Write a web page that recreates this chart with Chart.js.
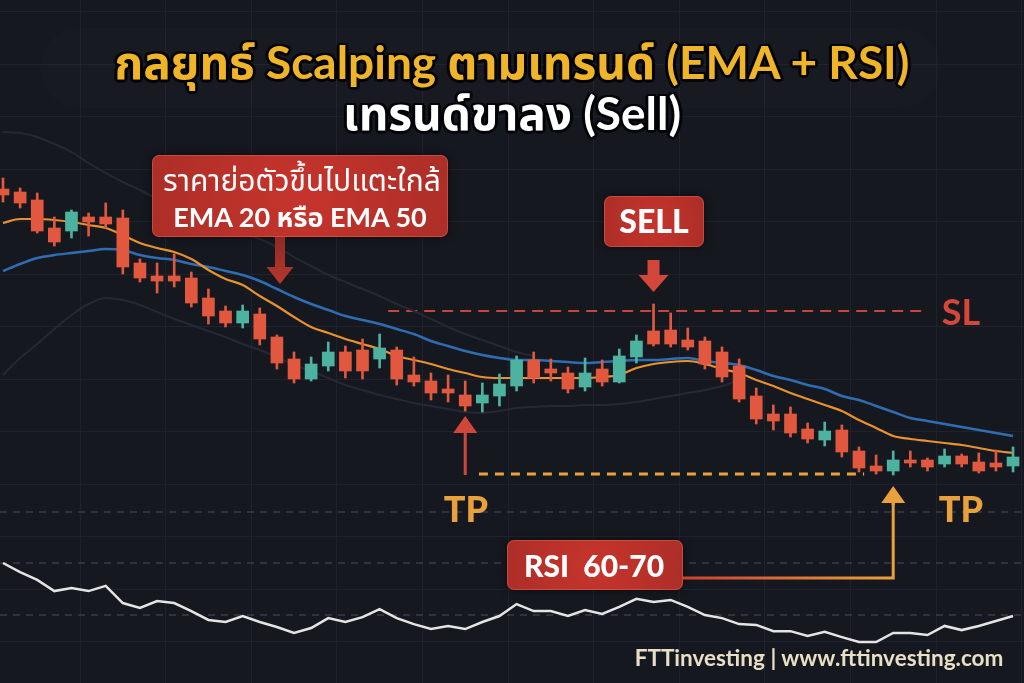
<!DOCTYPE html>
<html>
<head>
<meta charset="utf-8">
<script src="https://cdn.jsdelivr.net/npm/chart.js@4.4.0/dist/chart.umd.min.js"></script>
<style>
  html, body { margin: 0; padding: 0; background: #161820; }
  #wrap { position: relative; width: 1024px; height: 683px; overflow: hidden; background: #161820; }
  #chart { position: absolute; left: 0; top: 0; }
  .lbl {
    position: absolute; transform: translate(-50%, -50%);
    white-space: pre; line-height: 1;
    font-family: "Lato", "Noto Sans Thai", "Noto Sans", sans-serif;
  }
  .title { font-size: 46px; font-weight: 700;
    text-shadow: 0 0 3px #000, 2px 2px 0 #05060a, -2px -2px 0 #05060a, 2px -2px 0 #05060a, -2px 2px 0 #05060a, 0 3px 0 #05060a, 3px 0 0 #05060a, -3px 0 0 #05060a; }
</style>
</head>
<body>
<div id="wrap">
  <canvas id="chart" width="1024" height="683"></canvas>

  <div class="lbl title" style="left:512px; top:62px; color:#f0b429;">กลยุทธ์ Scalping ตามเทรนด์ (EMA + RSI)</div>
  <div class="lbl title" style="left:512px; top:113px; color:#ffffff;">เทรนด์ขาลง (Sell)</div>

  <div class="lbl" style="left:302px; top:179px; color:#fff; font-size:30px; font-weight:400;">ราคาย่อตัวขึ้นไปแตะใกล้</div>
  <div class="lbl" style="left:300px; top:216px; color:#fff; font-size:27px; font-weight:700;">EMA 20 หรือ EMA 50</div>

  <div class="lbl" style="left:654px; top:221px; color:#fff; font-size:32px; font-weight:900;">SELL</div>
  <div class="lbl" style="left:961px; top:311px; color:#d4473a; font-size:36px; font-weight:700;">SL</div>
  <div class="lbl" style="left:466px; top:508px; color:#e9a13b; font-size:36px; font-weight:900;">TP</div>
  <div class="lbl" style="left:961px; top:508px; color:#e9a13b; font-size:36px; font-weight:900;">TP</div>
  <div class="lbl" style="left:594px; top:565px; color:#fff; font-size:30px; font-weight:900;">RSI  60-70</div>
  <div class="lbl" style="left:819px; top:658px; color:#e8dfc6; font-size:22.5px; font-weight:700;">FTTinvesting | www.fttinvesting.com</div>
</div>

<script>
// candles (one per bar, left to right)
const opens = [2381.1,2380.8,2380.0,2377.2,2376.9,2378.3,2378.3,2378.2,2373.7,2372.4,
  2372.4,2372.2,2370.2,2368.9,2367.7,2368.6,2366.3,2364.1,2362.1,2363.4,
  2364.8,2365.0,2364.1,2365.0,2362.5,2361.9,2361.1,2360.5,2359.7,2360.4,
  2361.4,2364.0,2363.1,2362.7,2361.3,2363.1,2361.8,2364.3,2366.9,2367.0,
  2366.0,2365.9,2364.8,2363.4,2360.4,2358.6,2358.6,2357.1,2356.0,2357.0,
  2354.9,2353.4,2352.9,2354.0,2354.0,2353.6,2354.4,2353.8,2353.7,2353.4];
const highs = [2382.2,2381.2,2380.7,2378.3,2379.0,2378.7,2379.7,2379.0,2374.1,2373.7,
  2374.6,2372.8,2371.1,2369.4,2369.5,2369.2,2366.5,2364.8,2364.3,2365.8,
  2365.4,2366.1,2366.6,2365.3,2364.3,2362.7,2362.5,2361.9,2361.7,2362.6,
  2364.4,2364.8,2364.1,2363.3,2364.2,2364.0,2365.1,2366.5,2369.6,2368.7,
  2367.2,2366.3,2365.3,2364.1,2361.2,2359.5,2359.3,2357.7,2357.8,2357.5,
  2355.3,2354.5,2354.9,2354.9,2354.2,2355.1,2354.6,2354.7,2355.0,2355.3];
const lows = [2379.8,2379.2,2376.7,2375.4,2376.2,2376.4,2377.2,2372.6,2371.8,2370.7,
  2371.3,2369.3,2367.6,2367.3,2367.2,2365.5,2363.1,2361.7,2361.9,2362.9,
  2362.2,2362.1,2363.2,2361.5,2361.4,2360.0,2359.8,2358.9,2358.8,2359.4,
  2360.9,2361.7,2361.9,2360.7,2360.9,2361.4,2361.7,2363.7,2365.4,2365.3,
  2365.0,2363.1,2361.8,2359.8,2357.6,2357.0,2356.3,2355.7,2355.4,2354.3,
  2352.8,2352.6,2352.5,2353.3,2352.9,2353.3,2353.3,2352.7,2352.9,2352.8];
const closes = [2380.5,2379.7,2376.9,2375.8,2378.8,2377.8,2377.6,2373.3,2372.2,2371.9,
  2371.9,2369.7,2368.4,2367.7,2368.9,2366.1,2363.7,2362.1,2363.6,2364.8,
  2362.9,2362.9,2365.2,2362.1,2361.8,2360.7,2360.7,2359.4,2360.5,2361.6,
  2364.0,2362.2,2362.7,2361.1,2362.7,2361.8,2364.4,2365.9,2365.6,2365.6,
  2365.3,2363.6,2362.3,2360.1,2358.1,2357.9,2356.7,2356.1,2356.9,2354.8,
  2353.2,2352.9,2354.0,2353.7,2353.3,2354.4,2353.6,2352.9,2353.3,2354.3];

const ema20 = [2377.7,2378.1,2378.1,2378.0,2377.8,2377.5,2377.2,2376.5,2375.7,2375.2,
  2374.8,2374.1,2373.0,2372.1,2371.5,2370.4,2369.4,2368.3,2367.3,2366.7,
  2366.1,2365.6,2365.1,2364.4,2364.0,2363.6,2363.1,2362.7,2362.3,2362.2,
  2362.2,2362.2,2362.2,2362.2,2362.2,2362.3,2362.5,2363.2,2363.6,2363.8,
  2363.9,2363.6,2363.1,2362.7,2362.0,2361.4,2360.7,2360.1,2359.5,2358.9,
  2358.0,2357.2,2356.4,2356.1,2355.9,2355.7,2355.5,2355.2,2354.9,2354.7];
const ema50 = [2372.9,2373.6,2374.2,2374.5,2374.7,2374.9,2375.1,2375.0,2374.5,2374.2,
  2374.0,2373.6,2373.3,2372.9,2372.5,2371.9,2371.1,2370.3,2369.6,2369.0,
  2368.4,2368.0,2367.6,2367.1,2366.6,2365.9,2365.4,2364.9,2364.5,2364.2,
  2364.0,2364.0,2363.9,2363.8,2363.7,2363.8,2363.9,2364.0,2364.0,2364.1,
  2364.2,2363.9,2363.7,2363.5,2363.0,2362.4,2362.0,2361.5,2361.1,2360.4,
  2360.0,2359.4,2358.8,2358.2,2357.9,2357.6,2357.3,2357.0,2356.7,2356.4];
const bandUpper = [2386.8,2386.7,2386.3,2385.6,2384.8,2383.7,2382.7,2381.8,2381.0,2380.1,
  2379.2,2378.5,2377.8,2377.2,2376.7,2376.1,2375.3,2374.3,2373.4,2372.5,
  2371.8,2371.1,2370.4,2369.6,2368.9,2368.1,2367.3,2366.6,2366.0,2365.4,
  2364.8,2364.4];
const bandLower = [2362.5,2364.2,2365.6,2367.1,2368.5,2369.6,2370.2,2370.0,2369.5,2368.8,
  2368.1,2367.5,2366.9,2366.3,2365.6,2365.0,2364.3,2363.5,2362.9,2362.2,
  2361.5,2361.0,2360.5,2360.1,2359.7,2359.4,2359.1,2358.8,2358.7,2358.9,
  2359.2,2359.3,2359.4,2359.4,2359.5,2359.5,2359.6,2359.8,2360.1,2360.4,
  2360.7,2361.0,2361.4,2362.0];
const rsi = [70.0,66.5,63.5,59.2,60.4,59.2,61.2,54.6,52.7,55.4,
  54.6,51.5,48.1,47.3,49.6,47.3,45.4,43.1,45.0,48.8,
  47.3,49.2,52.3,48.8,46.5,44.6,45.8,44.6,47.3,49.6,
  54.2,51.5,51.5,49.6,51.9,50.4,53.1,56.2,55.0,55.8,
  53.1,50.0,48.8,46.5,46.2,43.8,43.8,41.9,43.5,41.5,
  39.6,39.6,43.1,43.1,42.3,45.8,44.2,45.8,47.7,49.6];

// levels
const gridPrices = [2398.8,2393.55,2388.3,2383.05,2377.8,2372.55,2367.3,2362.05,2356.8,2351.55,2346.3,2341.05,2335.8];
const gridBars = [2,7,12,17,22,27,32,37,42,47,52,57];
const slPrice = 2368.9;
const tpPrice = 2352.6;
const panelSplit = 2348.8;
const rsiLevels = [70, 50];

const UP = "#4db3a0";
const DOWN = "#e2583f";

const idx = opens.map((_, i) => i);
const colors = idx.map(i => closes[i] >= opens[i] ? UP : DOWN);

function pts(arr) {
  return arr.map((v, i) => ({ x: i, y: v }));
}

function arrow(ctx, x, yBase, yTip, shaftW, headW, headH, color) {
  const dir = yTip < yBase ? -1 : 1;
  const yHead = yTip - dir * headH;
  ctx.fillStyle = color;
  ctx.beginPath();
  ctx.moveTo(x - shaftW / 2, yBase);
  ctx.lineTo(x + shaftW / 2, yBase);
  ctx.lineTo(x + shaftW / 2, yHead);
  ctx.lineTo(x + headW / 2, yHead);
  ctx.lineTo(x, yTip);
  ctx.lineTo(x - headW / 2, yHead);
  ctx.lineTo(x - shaftW / 2, yHead);
  ctx.closePath();
  ctx.fill();
}

function redBox(ctx, x, y, w, h) {
  const g = ctx.createRadialGradient(x + w / 2, y + h / 2, 5, x + w / 2, y + h / 2, w / 1.6);
  g.addColorStop(0, "#c5342c");
  g.addColorStop(1, "#a72d27");
  ctx.save();
  ctx.shadowColor = "rgba(0,0,0,0.5)";
  ctx.shadowBlur = 8;
  ctx.fillStyle = g;
  ctx.beginPath();
  ctx.roundRect(x, y, w, h, 7);
  ctx.fill();
  ctx.restore();
  ctx.strokeStyle = "rgba(230,110,90,0.45)";
  ctx.lineWidth = 1;
  ctx.beginPath();
  ctx.roundRect(x + 0.5, y + 0.5, w - 1, h - 1, 7);
  ctx.stroke();
}

const annotations = {
  id: "annotations",
  beforeDatasetsDraw(chart) {
    const ctx = chart.ctx;
    const x = chart.scales.x, y = chart.scales.y, yr = chart.scales.yr;
    ctx.save();

    // faint glow behind the title
    ctx.fillStyle = "rgba(255,255,255,0.01)";
    ctx.beginPath();
    ctx.roundRect(40, 28, 900, 80, 40);
    ctx.fill();

    // panel split + rsi levels
    ctx.lineWidth = 1.5;
    ctx.strokeStyle = "#3a3d49";
    ctx.setLineDash([7, 6]);
    [y.getPixelForValue(panelSplit), ...rsiLevels.map(v => yr.getPixelForValue(v))].forEach(py => {
      ctx.beginPath();
      ctx.moveTo(0, py);
      ctx.lineTo(1024, py);
      ctx.stroke();
    });

    // SL
    ctx.strokeStyle = "#c9443a";
    ctx.lineWidth = 2;
    ctx.setLineDash([11, 7]);
    let py = y.getPixelForValue(slPrice);
    ctx.beginPath();
    ctx.moveTo(x.getPixelForValue(22.5), py);
    ctx.lineTo(x.getPixelForValue(53.7), py);
    ctx.stroke();

    // TP
    ctx.strokeStyle = "#e9a13b";
    ctx.lineWidth = 3;
    ctx.setLineDash([9, 7]);
    py = y.getPixelForValue(tpPrice);
    ctx.beginPath();
    ctx.moveTo(x.getPixelForValue(27.8), py);
    ctx.lineTo(x.getPixelForValue(50.3), py);
    ctx.stroke();
    ctx.restore();
  },
  afterDatasetsDraw(chart) {
    const ctx = chart.ctx;
    const x = chart.scales.x, y = chart.scales.y;
    ctx.save();

    // pullback note + arrow
    redBox(ctx, 152, 155, 296, 82);
    const ag = ctx.createLinearGradient(0, 237, 0, 285);
    ag.addColorStop(0, "#8f2a24");
    ag.addColorStop(1, "#b8372d");
    arrow(ctx, 280, 237, 284, 10, 27, 17, ag);

    // SELL
    redBox(ctx, 604, 196, 100, 51);
    arrow(ctx, x.getPixelForValue(38), 260, 292, 12, 30, 17, "#d2473a");

    // TP arrow (left)
    const tpY = y.getPixelForValue(tpPrice);
    arrow(ctx, x.getPixelForValue(27), tpY + 1, 416, 3, 24, 17, "#d0473a");

    // RSI box + connector to the right TP arrow
    redBox(ctx, 507, 540, 176, 50);
    const ax = x.getPixelForValue(52);
    const cg = ctx.createLinearGradient(683, 0, ax, 0);
    cg.addColorStop(0, "#d0402f");
    cg.addColorStop(1, "#e9a13b");
    ctx.strokeStyle = cg;
    ctx.lineWidth = 3;
    ctx.beginPath();
    ctx.moveTo(683, 578);
    ctx.lineTo(ax, 578);
    ctx.lineTo(ax, 500);
    ctx.stroke();
    arrow(ctx, ax, 505, 486, 3, 24, 17, "#e9a13b");

    ctx.restore();
  }
};

new Chart(document.getElementById("chart"), {
  type: "bar",
  data: {
    datasets: [
      {
        label: "body",
        data: idx.map(i => ({ x: i, y: [Math.min(opens[i], closes[i]), Math.max(opens[i], closes[i])] })),
        backgroundColor: colors,
        barThickness: 12,
        grouped: false,
        borderSkipped: false,
        order: 0
      },
      {
        label: "wick",
        data: idx.map(i => ({ x: i, y: [lows[i], highs[i]] })),
        backgroundColor: colors,
        barThickness: 2,
        grouped: false,
        borderSkipped: false,
        order: 1
      },
      {
        type: "line", label: "EMA 20", data: pts(ema20),
        borderColor: "#e8912d", borderWidth: 2.2, pointRadius: 0,
        cubicInterpolationMode: "monotone", order: 2
      },
      {
        type: "line", label: "EMA 50", data: pts(ema50),
        borderColor: "#2f6db3", borderWidth: 2.5, pointRadius: 0,
        cubicInterpolationMode: "monotone", order: 3
      },
      {
        type: "line", label: "upper", data: pts(bandUpper),
        borderColor: "#262933", borderWidth: 2, pointRadius: 0,
        cubicInterpolationMode: "monotone", order: 4
      },
      {
        type: "line", label: "lower", data: pts(bandLower),
        borderColor: "#262933", borderWidth: 2, pointRadius: 0,
        cubicInterpolationMode: "monotone", order: 4
      },
      {
        type: "line", label: "RSI", data: pts(rsi), yAxisID: "yr",
        borderColor: "#e4e4e4", borderWidth: 2.5, pointRadius: 0,
        tension: 0, order: 2
      }
    ]
  },
  options: {
    responsive: false,
    animation: false,
    devicePixelRatio: 1,
    layout: { padding: 0 },
    plugins: { legend: { display: false }, tooltip: { enabled: false } },
    scales: {
      x: {
        type: "linear", min: -0.175, max: 59.64, offset: false,
        afterBuildTicks: s => { s.ticks = gridBars.map(v => ({ value: v })); },
        ticks: { display: false },
        grid: { color: "#1f222c", drawTicks: false },
        border: { display: false }
      },
      y: {
        min: 2331.7, max: 2400,
        afterBuildTicks: s => { s.ticks = gridPrices.map(v => ({ value: v })); },
        ticks: { display: false },
        grid: { color: "#1f222c", drawTicks: false },
        border: { display: false }
      },
      yr: {
        display: false, min: 23.85, max: 286.54
      }
    }
  },
  plugins: [annotations]
});
</script>
</body>
</html>
